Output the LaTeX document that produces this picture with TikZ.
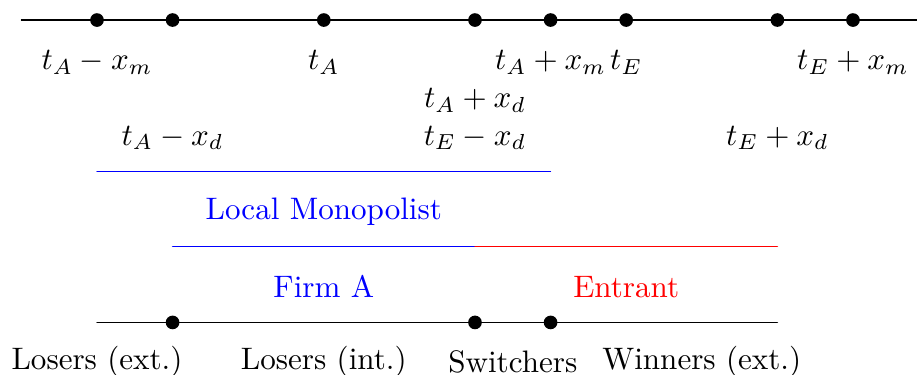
\documentclass[tikz,border=0pt]{standalone}
\usepackage{amsmath,amssymb}
\usepackage{xcolor}
\usepackage{tikz}

\tikzset{
    lab/.style={anchor=base},
}

\begin{document}
\begin{tikzpicture}[x=0.855cm,y=0.855cm, line cap=round, line join=round]
    \useasboundingbox (-1.283,-4.683) rectangle (10.847,0.265);

    % Top line
    \coordinate (tl) at (-1,0);
    \coordinate (tr) at (11,0);
    \draw (tl) -- (tr);
    \foreach \x/\n in {0/am,1/ad,3/a,5/apd,6/apm,7/e,9/epd,10/epm}{
        \coordinate (\n) at (\x,0);
        \fill (\n) circle (2.2pt);
    }

    % Labels under the top line
    \node[lab] (lam)  at (0,-0.655)  {$t_A - x_m$};
    \node[lab] (la)   at (3,-0.655)  {$t_A$};
    \node[lab] (lapm) at (6,-0.655)  {$t_A + x_m$};
    \node[lab] (le)   at (7,-0.655)  {$t_E$};
    \node[lab] (lepm) at (10,-0.655) {$t_E + x_m$};
    \node[lab] (lapd) at (5,-1.155)  {$t_A + x_d$};
    \node[lab] (lad)  at (1,-1.655)  {$t_A - x_d$};
    \node[lab] (lemd) at (5,-1.655)  {$t_E - x_d$};
    \node[lab] (lepd) at (9,-1.655)  {$t_E + x_d$};

    % Local monopolist
    \coordinate (m0) at (0,-2);
    \coordinate (m6) at (6,-2);
    \draw[blue] (m0) -- (m6);
    \node[lab, blue] (lm) at (3,-2.64) {Local Monopolist};

    % Firm A and entrant
    \coordinate (f1) at (1,-3);
    \coordinate (f5) at (5,-3);
    \coordinate (f9) at (9,-3);
    \draw[blue] (f1) -- (f5);
    \draw[red]  (f5) -- (f9);
    \node[lab, blue] (fa) at (3,-3.668) {Firm A};
    \node[lab, red]  (en) at (7,-3.668) {Entrant};

    % Bottom line
    \coordinate (b0) at (0,-4);
    \coordinate (b9) at (9,-4);
    \draw (b0) -- (b9);
    \foreach \x/\n in {1/b1,5/b5,6/b6}{
        \coordinate (\n) at (\x,-4);
        \fill (\n) circle (2.2pt);
    }

    % Groups
    \node (lext) at (0,-4.52)   {Losers (ext.)};
    \node (lint) at (3,-4.52)   {Losers (int.)};
    \node (sw)   at (5.5,-4.52) {Switchers};
    \node (wext) at (8,-4.52)   {Winners (ext.)};
\end{tikzpicture}
\end{document}
